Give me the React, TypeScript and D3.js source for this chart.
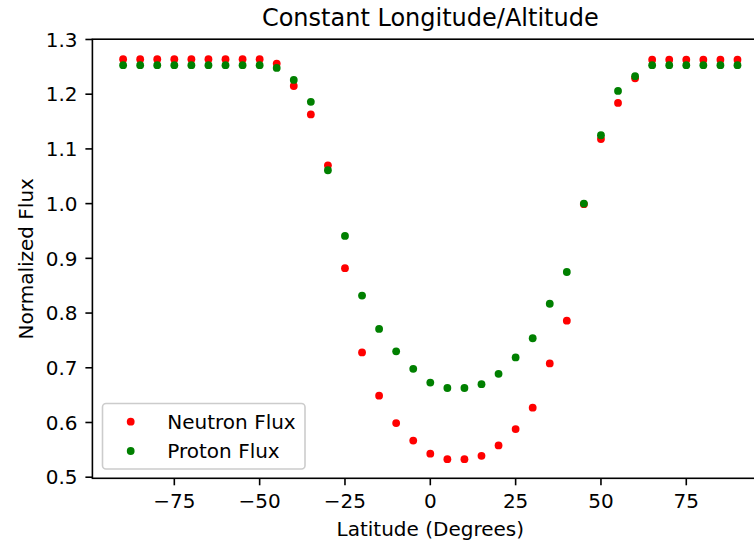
import React from "react";
import * as d3 from "d3";

const latitudes = [-90,-85,-80,-75,-70,-65,-60,-55,-50,-45,-40,-35,-30,-25,-20,-15,-10,-5,0,5,10,15,20,25,30,35,40,45,50,55,60,65,70,75,80,85,90];
const neutronFlux = [1.264,1.264,1.264,1.264,1.264,1.264,1.264,1.264,1.264,1.256,1.215,1.163,1.070,0.882,0.728,0.649,0.599,0.567,0.543,0.533,0.533,0.539,0.558,0.588,0.627,0.708,0.786,0.999,1.118,1.184,1.229,1.263,1.263,1.263,1.263,1.263,1.263];
const protonFlux = [1.253,1.253,1.253,1.253,1.253,1.253,1.253,1.253,1.253,1.248,1.226,1.186,1.061,0.941,0.832,0.771,0.730,0.698,0.673,0.663,0.663,0.670,0.689,0.719,0.754,0.817,0.875,1.000,1.125,1.206,1.233,1.253,1.253,1.253,1.253,1.253,1.253];
const xTicks = [-75,-50,-25,0,25,50,75];
const yTicks = [0.5,0.6,0.7,0.8,0.9,1.0,1.1,1.2,1.3];
const seriesNames = ["Neutron Flux", "Proton Flux"];
const seriesColors = ["#ff0000", "#008000"];

const W = 754, H = 540;
const left = 92.4, right = 768.2, top = 39.2, bottom = 478.3;
const font = "'DejaVu Sans', sans-serif";
const fs = 20;

export default function App() {
  const x = d3.scaleLinear().domain([-99, 99]).range([left, right]);
  const y = d3.scaleLinear().domain([0.498, 1.3005]).range([bottom, top]);
  const series = [neutronFlux, protonFlux];
  const fmtX = (v: number) => (v < 0 ? "\u2212" + Math.abs(v) : String(v));
  return (
    <svg width={W} height={H} style={{ position: "absolute", left: 0, top: 0, background: "#fff" }} fontFamily={font}>
      <rect width={W} height={H} fill="#fff" />
      {series.map((vals, si) =>
        latitudes.map((lat, i) => (
          <circle key={si + "-" + i} cx={x(lat)} cy={y(vals[i])} r={3.9} fill={seriesColors[si]} />
        ))
      )}
      <rect x={left} y={top} width={right - left} height={bottom - top} fill="none" stroke="#000" strokeWidth={1.6} />
      {xTicks.map((t) => (
        <g key={"x" + t}>
          <line x1={x(t)} x2={x(t)} y1={bottom} y2={bottom + 7} stroke="#000" strokeWidth={1.6} />
          <text x={x(t)} y={507.5} textAnchor="middle" fontSize={fs} fill="#000">{fmtX(t)}</text>
        </g>
      ))}
      {yTicks.map((t) => (
        <g key={"y" + t}>
          <line x1={left - 7} x2={left} y1={y(t)} y2={y(t)} stroke="#000" strokeWidth={1.6} />
          <text x={77.5} y={y(t)} dy="0.36em" textAnchor="end" fontSize={fs} fill="#000">{t.toFixed(1)}</text>
        </g>
      ))}
      <text x={(left + right) / 2} y={26} textAnchor="middle" fontSize={24} fill="#000">Constant Longitude/Altitude</text>
      <text x={(left + right) / 2} y={536} textAnchor="middle" fontSize={fs} fill="#000">Latitude (Degrees)</text>
      <text transform={`translate(33.3, ${(top + bottom) / 2}) rotate(-90)`} textAnchor="middle" fontSize={fs} fill="#000">Normalized Flux</text>
      <rect x={102.5} y={403.5} width={202.5} height={65.5} rx={3.5} fill="#fff" fillOpacity={0.8} stroke="#cccccc" strokeWidth={1.6} />
      {seriesNames.map((name, i) => (
        <g key={name}>
          <circle cx={130.7} cy={421.7 + i * 29.3} r={3.9} fill={seriesColors[i]} />
          <text x={167.3} y={421.7 + i * 29.3} dy="0.36em" fontSize={fs} fill="#000">{name}</text>
        </g>
      ))}
    </svg>
  );
}
